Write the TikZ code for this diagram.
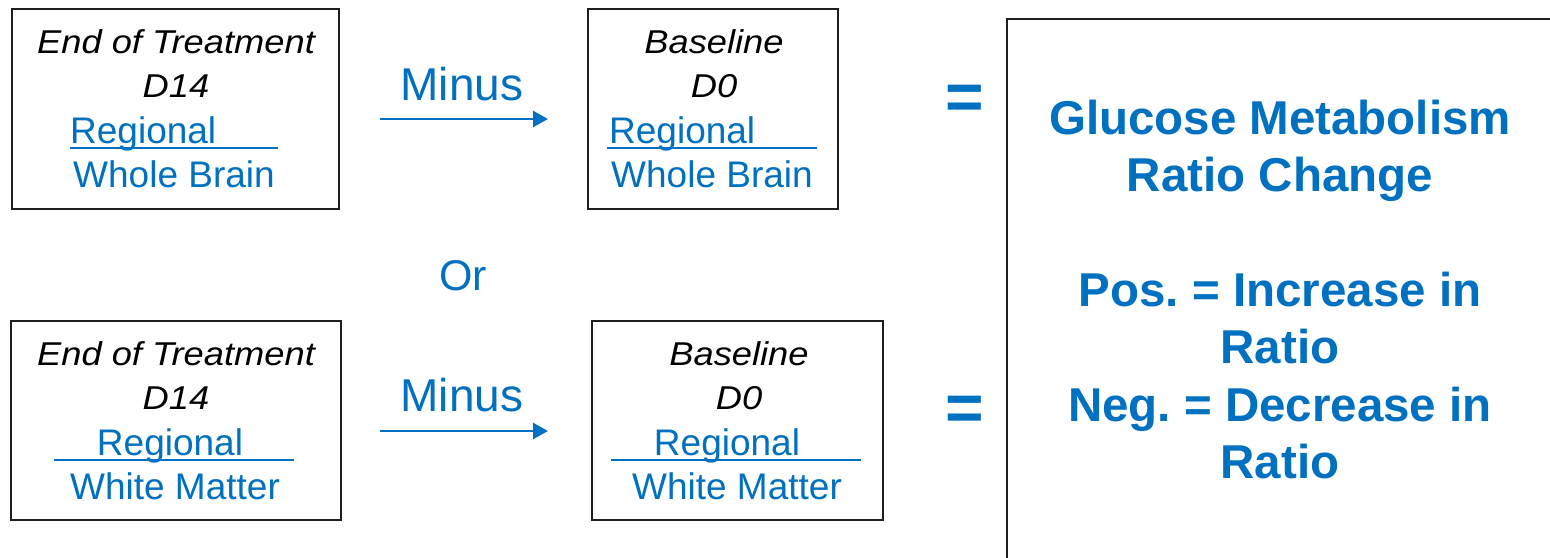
\documentclass[tikz,border=0pt]{standalone}
\usepackage{fontspec}
\setmainfont{Liberation Sans}
\usetikzlibrary{arrows.meta}
\definecolor{ppblue}{RGB}{0,112,192}
\definecolor{framegray}{RGB}{30,30,30}
\newcommand{\wideit}[1]{\scalebox{1.1}[1]{#1}}
\frenchspacing
\tikzset{
  frame/.style={draw=framegray, line width=2pt, inner sep=0pt, anchor=north west},
  ital/.style={font=\fontsize{33}{33}\selectfont\itshape, text=black, inner sep=0pt, anchor=base},
  bluetxt/.style={font=\fontsize{37}{37}\selectfont, text=ppblue, inner sep=0pt, anchor=base},
  oplabel/.style={font=\fontsize{46}{46}\selectfont, text=ppblue, inner sep=0pt, anchor=base},
  orlabel/.style={font=\fontsize{43}{43}\selectfont, text=ppblue, inner sep=0pt, anchor=base},
  eqsign/.style={font=\fontsize{66}{66}\selectfont\bfseries, text=ppblue, inner sep=0pt, anchor=base},
  resulttxt/.style={font=\fontsize{47.5}{47.5}\selectfont\bfseries, text=ppblue, inner sep=0pt, anchor=base},
  fracrule/.style={draw=ppblue, line width=2pt},
  flow/.style={draw=ppblue, line width=2.5pt, -{Triangle[length=15pt,width=16pt]}},
}
\begin{document}
\begin{tikzpicture}[x=1pt, y=-1pt]
\useasboundingbox (0,0) rectangle (1550,557);
\clip (0,0) rectangle (1550,557);
\fill[white] (0,0) rectangle (1550,557);

% ---- upper row: whole-brain normalisation ----
\node[frame, minimum width=327, minimum height=200] (eotA) at (11,8) {};
\node[ital] (eotAtitle) at (176,53) {\wideit{End of Treatment}};
\node[ital] (eotAday)   at (176,97) {\wideit{D14}};
\node[bluetxt, anchor=base west] (eotAnum) at (70,143) {Regional};
\coordinate (eotArl) at (70,148);
\coordinate (eotArr) at (278,148);
\draw[fracrule] (eotArl) -- (eotArr);
\node[bluetxt] (eotAden) at (174,187) {Whole Brain};

\node[oplabel] (minusA) at (462,100) {Minus};
\coordinate (arrAs) at (380,119);
\coordinate (arrAe) at (548,119);
\draw[flow] (arrAs) -- (arrAe);

\node[frame, minimum width=250, minimum height=200] (baseA) at (587,8) {};
\node[ital] (baseAtitle) at (714,53) {\wideit{Baseline}};
\node[ital] (baseAday)   at (714,97) {\wideit{D0}};
\node[bluetxt, anchor=base west] (baseAnum) at (609,143) {Regional};
\coordinate (baseArl) at (607,148);
\coordinate (baseArr) at (817,148);
\draw[fracrule] (baseArl) -- (baseArr);
\node[bluetxt] (baseAden) at (712,187) {Whole Brain};

\node[eqsign] (eqA) at (965,119) {=};

% ---- separator ----
\node[orlabel] (orword) at (463,290) {Or};

% ---- lower row: white-matter normalisation ----
\node[frame, minimum width=330, minimum height=199] (eotB) at (10,320) {};
\node[ital] (eotBtitle) at (176,365) {\wideit{End of Treatment}};
\node[ital] (eotBday)   at (176,409) {\wideit{D14}};
\node[bluetxt] (eotBnum) at (170,455) {Regional};
\coordinate (eotBrl) at (54,460);
\coordinate (eotBrr) at (294,460);
\draw[fracrule] (eotBrl) -- (eotBrr);
\node[bluetxt] (eotBden) at (175,499) {White Matter};

\node[oplabel] (minusB) at (462,411) {Minus};
\coordinate (arrBs) at (380,431);
\coordinate (arrBe) at (548,431);
\draw[flow] (arrBs) -- (arrBe);

\node[frame, minimum width=291, minimum height=199] (baseB) at (591,320) {};
\node[ital] (baseBtitle) at (739,365) {\wideit{Baseline}};
\node[ital] (baseBday)   at (739,409) {\wideit{D0}};
\node[bluetxt] (baseBnum) at (727,455) {Regional};
\coordinate (baseBrl) at (611,460);
\coordinate (baseBrr) at (861,460);
\draw[fracrule] (baseBrl) -- (baseBrr);
\node[bluetxt] (baseBden) at (737,499) {White Matter};

\node[eqsign] (eqB) at (965,430) {=};

% ---- result panel ----
\node[frame, minimum width=600, minimum height=600] (result) at (1006,18) {};
\node[resulttxt] (resL1) at (1280,134) {Glucose Metabolism};
\node[resulttxt] (resL2) at (1280,191) {Ratio Change};
\node[resulttxt] (resL3) at (1280,306) {Pos. = Increase in};
\node[resulttxt] (resL4) at (1280,363) {Ratio};
\node[resulttxt] (resL5) at (1280,421) {Neg. = Decrease in};
\node[resulttxt] (resL6) at (1280,478) {Ratio};
\end{tikzpicture}
\end{document}
